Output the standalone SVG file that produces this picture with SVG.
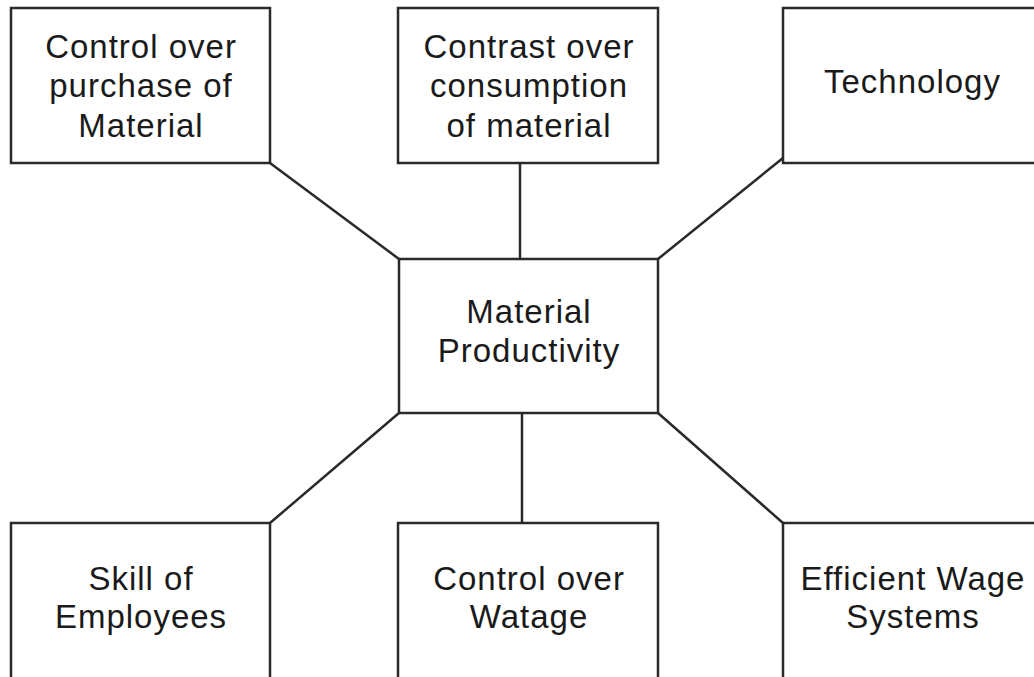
<svg xmlns="http://www.w3.org/2000/svg" width="1034" height="677" viewBox="0 0 1034 677">
  <style>
    .box { fill: #ffffff; stroke: #2a2a2a; stroke-width: 2.5; }
    .link { stroke: #2a2a2a; stroke-width: 2.5; fill: none; }
    .label { font-family: "Liberation Sans", Arial, sans-serif; font-size: 33px; letter-spacing: 1px; fill: #1a1a1a; text-anchor: middle; }
  </style>
  <rect width="1034" height="677" fill="#ffffff"/>

  <!-- connectors between the central node and the factors -->
  <g id="connectors">
    <line class="link" x1="270" y1="163" x2="399" y2="259"/>
    <line class="link" x1="520" y1="163" x2="520" y2="259"/>
    <line class="link" x1="783" y1="158" x2="658" y2="259"/>
    <line class="link" x1="270" y1="523" x2="399" y2="413"/>
    <line class="link" x1="522" y1="413" x2="522" y2="523"/>
    <line class="link" x1="783" y1="523" x2="658" y2="413"/>
  </g>

  <g id="node-purchase">
    <rect class="box" x="11" y="8" width="259" height="155"/>
    <text class="label" x="141" y="58">Control over</text>
    <text class="label" x="141" y="97">purchase of</text>
    <text class="label" x="141" y="137">Material</text>
  </g>

  <g id="node-consumption">
    <rect class="box" x="398" y="8" width="260" height="155"/>
    <text class="label" x="529" y="58">Contrast over</text>
    <text class="label" x="529" y="97">consumption</text>
    <text class="label" x="529" y="137">of material</text>
  </g>

  <g id="node-technology">
    <rect class="box" x="783" y="8" width="260" height="155"/>
    <text class="label" x="912.5" y="93">Technology</text>
  </g>

  <g id="node-center">
    <rect class="box" x="399" y="259" width="259" height="154"/>
    <text class="label" x="529" y="323">Material</text>
    <text class="label" x="529" y="362">Productivity</text>
  </g>

  <g id="node-skill">
    <rect class="box" x="11" y="523" width="259" height="165"/>
    <text class="label" x="141" y="590">Skill of</text>
    <text class="label" x="141" y="628">Employees</text>
  </g>

  <g id="node-watage">
    <rect class="box" x="398" y="523" width="260" height="165"/>
    <text class="label" x="529" y="590">Control over</text>
    <text class="label" x="529" y="628">Watage</text>
  </g>

  <g id="node-wage-systems">
    <rect class="box" x="783" y="523" width="260" height="165"/>
    <text class="label" x="913" y="590">Efficient Wage</text>
    <text class="label" x="913" y="628">Systems</text>
  </g>
</svg>
